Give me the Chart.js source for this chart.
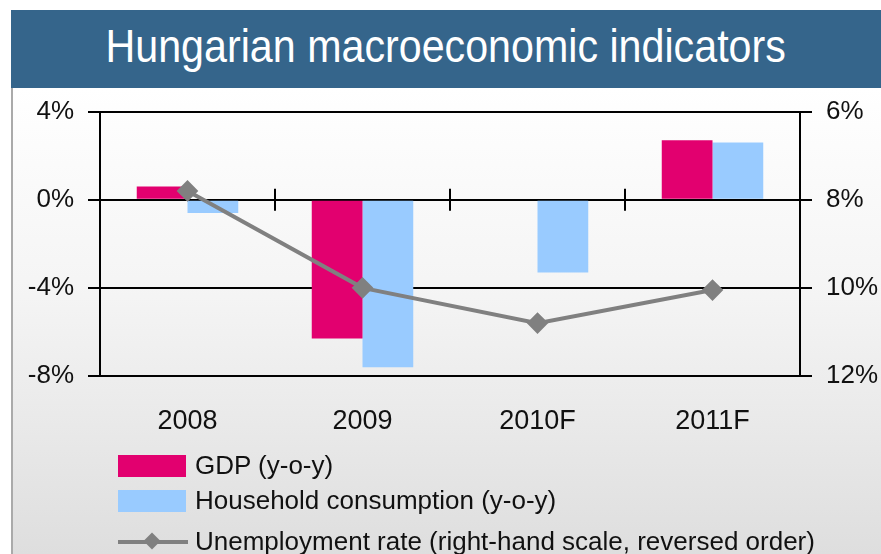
<!DOCTYPE html>
<html>
<head>
<meta charset="utf-8">
<script src="https://cdn.jsdelivr.net/npm/chart.js@4.4.1/dist/chart.umd.min.js"></script>
<style>
  html, body { margin: 0; padding: 0; }
  body {
    width: 881px; height: 554px; position: relative; overflow: hidden;
    background: #fff;
  }
  .frame {
    position: absolute; left: 11px; top: 88px; width: 870px; height: 466px;
    border-left: 2px solid #aaa;
    background: linear-gradient(to bottom, #ffffff 0%, #f4f4f4 45%, #dedede 100%);
  }
  .title {
    position: absolute; left: 11px; top: 10px; width: 870px; height: 78px;
    background: #35658b; color: #fff;
    font-family: "Liberation Sans", Arial, sans-serif;
    font-size: 46px; line-height: 72px; text-align: center;
  }
  .title span { display: inline-block; transform-origin: center; white-space: nowrap; }
  #wrap { position: absolute; left: 0; top: 82px; width: 881px; height: 472px; }
  .legend {
    position: absolute; left: 118px; top: 448px;
    font-family: "Liberation Sans", Arial, sans-serif; font-size: 26px; color: #111;
  }
  .item { position: relative; height: 35px; line-height: 35px; padding-left: 77px; white-space: nowrap; }
  .item.last { margin-top: 6px; }
  .box { position: absolute; left: 0; top: 7px; width: 68px; height: 22px; }
  .ln { position: absolute; left: 0; top: 16px; width: 70px; height: 4px; background: #808080; }
  .dia { position: absolute; left: 28px; top: 11px; width: 12px; height: 12px; background: #808080; transform: rotate(45deg); }
</style>
</head>
<body>
<div class="frame"></div>
<div class="title"><span id="titleText">Hungarian macroeconomic indicators</span></div>
<div id="wrap"><canvas id="chart"></canvas></div>
<div class="legend" id="legend"></div>
<script>
// chart data
const categories = ['2008', '2009', '2010F', '2011F'];
const gdp = [0.6, -6.3, null, 2.7];
const household = [-0.6, -7.6, -3.3, 2.6];
const unemployment = [7.8, 10.0, 10.8, 10.05];
const leftTicks = [-8, -4, 0, 4];
const rightTicks = [6, 8, 10, 12];

const gdpColor = '#e2006f';
const hhColor = '#99cbff';
const lineColor = '#808080';

// narrow the title to the width it has in the original
const titleText = document.getElementById('titleText');
titleText.style.transform = 'scaleX(' + (680 / titleText.offsetWidth) + ')';

// small tick marks on the zero line between categories
const zeroTicks = {
    id: 'zeroTicks',
    afterDatasetsDraw(chart) {
        const x = chart.scales.x;
        const y = chart.scales.y;
        const ctx = chart.ctx;
        const y0 = y.getPixelForValue(0);
        ctx.save();
        ctx.strokeStyle = '#000';
        ctx.lineWidth = 2;
        for (let i = 0; i < categories.length - 1; i++) {
            const xb = (x.getPixelForValue(i) + x.getPixelForValue(i + 1)) / 2;
            ctx.beginPath();
            ctx.moveTo(xb, y0 - 11);
            ctx.lineTo(xb, y0 + 11);
            ctx.stroke();
        }
        ctx.restore();
    }
};

const tickFont = { family: '"Liberation Sans", Arial, sans-serif', size: 26 };

new Chart(document.getElementById('chart'), {
    type: 'bar',
    data: {
        labels: categories,
        datasets: [
            {
                type: 'line', label: 'Unemployment rate (right-hand scale, reversed order)',
                data: unemployment, yAxisID: 'y2',
                borderColor: lineColor, backgroundColor: lineColor, borderWidth: 4,
                pointStyle: 'rectRot', pointRadius: 8, pointHoverRadius: 8, order: 0
            },
            {
                label: 'GDP (y-o-y)', data: gdp, yAxisID: 'y',
                backgroundColor: gdpColor, order: 1,
                categoryPercentage: 0.58, barPercentage: 1
            },
            {
                label: 'Household consumption (y-o-y)', data: household, yAxisID: 'y',
                backgroundColor: hhColor, order: 1,
                categoryPercentage: 0.58, barPercentage: 1
            }
        ]
    },
    options: {
        responsive: true,
        maintainAspectRatio: false,
        animation: false,
        layout: { padding: 0 },
        plugins: { legend: { display: false }, tooltip: { enabled: false } },
        scales: {
            x: {
                grid: { display: false },
                border: { display: false },
                ticks: { color: '#111', font: { family: tickFont.family, size: 27 }, padding: 21 },
                afterFit(scale) { scale.height = 178; }
            },
            y: {
                position: 'left', min: -8, max: 4,
                afterBuildTicks(scale) { scale.ticks = leftTicks.map(v => ({ value: v })); },
                grid: { color: '#000', lineWidth: 2, tickLength: 12 },
                border: { color: '#000', width: 2 },
                ticks: { color: '#111', font: tickFont, padding: 14, callback: v => v + '%' },
                afterFit(scale) { scale.width = 100; }
            },
            y2: {
                position: 'right', min: 6, max: 12, reverse: true,
                afterBuildTicks(scale) { scale.ticks = rightTicks.map(v => ({ value: v })); },
                grid: { drawOnChartArea: false, color: '#000', lineWidth: 2, tickLength: 12 },
                border: { color: '#000', width: 2 },
                ticks: { color: '#111', font: tickFont, padding: 14, callback: v => v + '%' },
                afterFit(scale) { scale.width = 81; }
            }
        }
    },
    plugins: [zeroTicks]
});

// legend stacked under the chart
const legendItems = [
    { text: 'GDP (y-o-y)', kind: 'box', color: gdpColor },
    { text: 'Household consumption (y-o-y)', kind: 'box', color: hhColor },
    { text: 'Unemployment rate (right-hand scale, reversed order)', kind: 'line', color: lineColor }
];
const legendEl = document.getElementById('legend');
legendItems.forEach(item => {
    const row = document.createElement('div');
    row.className = 'item';
    if (item.kind === 'box') {
        row.innerHTML = '<span class="box" style="background:' + item.color + '"></span>';
    } else {
        row.className += ' last';
        row.innerHTML = '<span class="ln"></span><span class="dia"></span>';
    }
    row.appendChild(document.createTextNode(item.text));
    legendEl.appendChild(row);
});
</script>
</body>
</html>
